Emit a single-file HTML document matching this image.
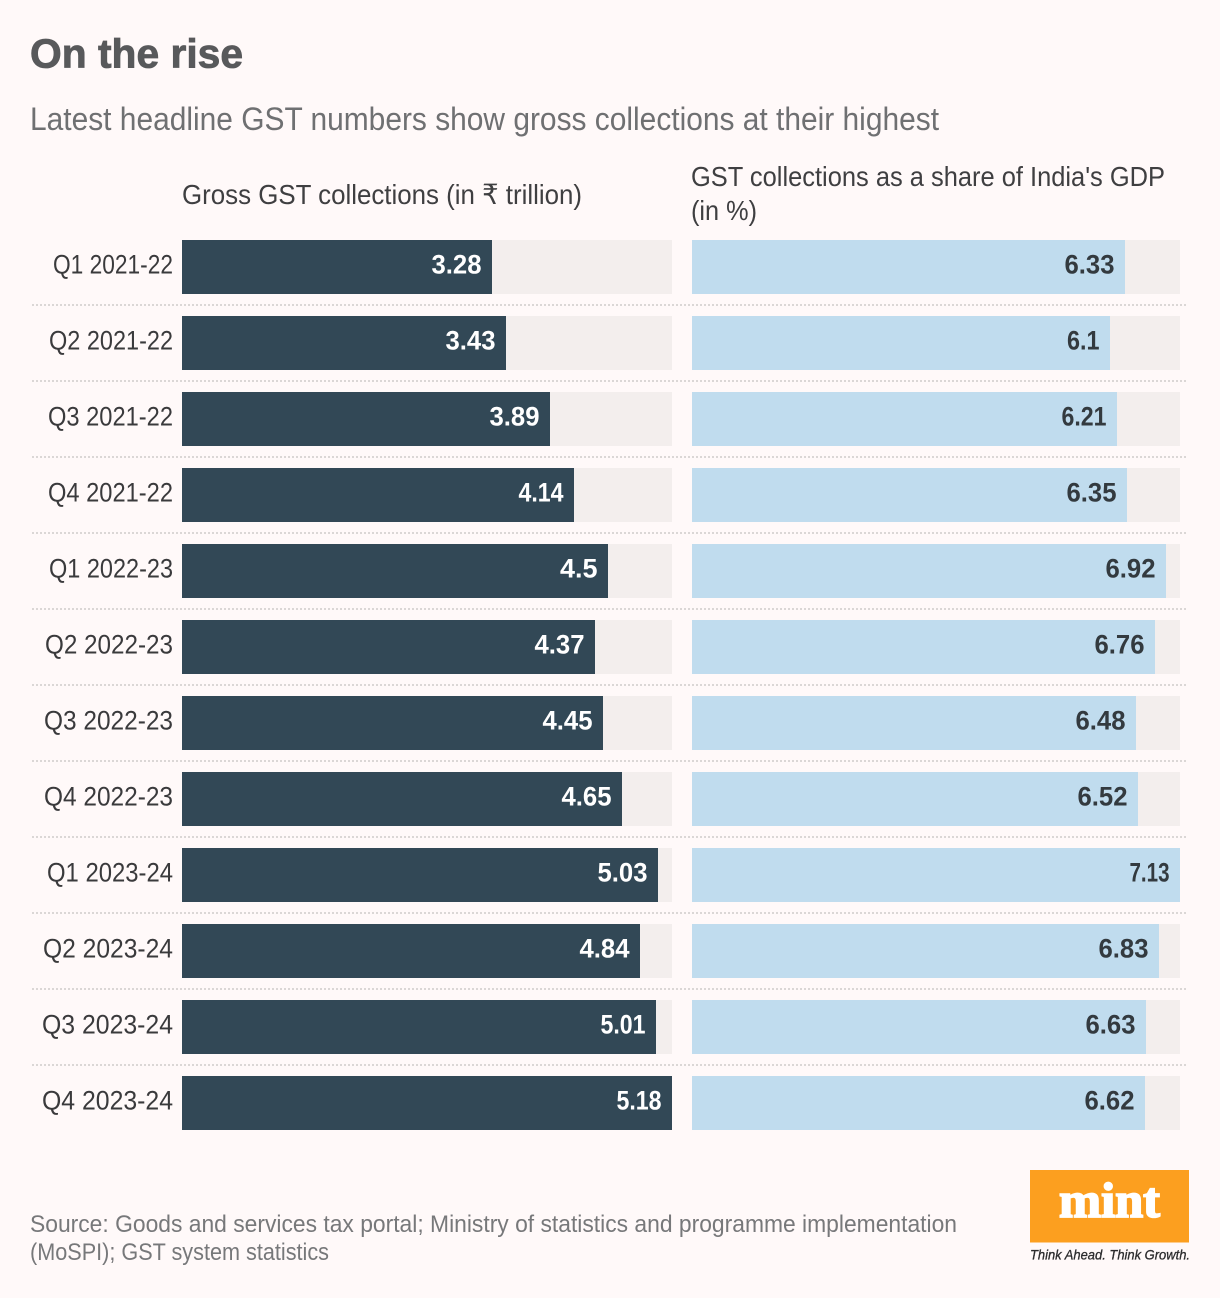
<!DOCTYPE html>
<html lang="en">
<head>
<meta charset="utf-8">
<title>On the rise</title>
<style>
html,body{margin:0;padding:0;background:#fff9f9;}
svg{display:block;font-family:"Liberation Sans",sans-serif;}
</style>
</head>
<body>
<svg id="chart" xmlns="http://www.w3.org/2000/svg" width="1220" height="1298" viewBox="0 0 1220 1298">
  <rect x="0" y="0" width="1220" height="1298" fill="#fff9f9"/>
  <text x="30" y="67.5" font-size="41" font-weight="700" fill="#58595b" stroke="#58595b" stroke-width="0.8" textLength="213" lengthAdjust="spacingAndGlyphs">On the rise</text>
  <text x="30" y="130" font-size="32" fill="#6f7072" textLength="909" lengthAdjust="spacingAndGlyphs">Latest headline GST numbers show gross collections at their highest</text>
  <text x="182" y="204" font-size="28" fill="#3f3f41" textLength="400" lengthAdjust="spacingAndGlyphs">Gross GST collections (in ₹ trillion)</text>
  <text x="691" y="186" font-size="28" fill="#3f3f41" textLength="474" lengthAdjust="spacingAndGlyphs">GST collections as a share of India's GDP</text>
  <text x="691" y="220" font-size="28" fill="#3f3f41" textLength="66" lengthAdjust="spacingAndGlyphs">(in %)</text>
  <g id="rows"></g>
  <text x="30" y="1232" font-size="24" fill="#77787a" textLength="927" lengthAdjust="spacingAndGlyphs">Source: Goods and services tax portal; Ministry of statistics and programme implementation</text>
  <text x="30" y="1260" font-size="24" fill="#77787a" textLength="299" lengthAdjust="spacingAndGlyphs">(MoSPI); GST system statistics</text>
  <rect x="1030" y="1170" width="159" height="72.5" fill="#fc9f1f"/>
  <text x="1059" y="1217" font-family="'Liberation Serif',serif" font-size="50" font-weight="700" fill="#ffffff" stroke="#ffffff" stroke-width="1.8" textLength="101" lengthAdjust="spacingAndGlyphs">mint</text>
  <text x="1030" y="1259.5" font-size="14" font-style="italic" fill="#2b2b2d" stroke="#2b2b2d" stroke-width="0.3" textLength="160" lengthAdjust="spacingAndGlyphs">Think Ahead. Think Growth.</text>
</svg>
<script>
const categories = ["Q1 2021-22","Q2 2021-22","Q3 2021-22","Q4 2021-22","Q1 2022-23","Q2 2022-23","Q3 2022-23","Q4 2022-23","Q1 2023-24","Q2 2023-24","Q3 2023-24","Q4 2023-24"];
const grossCollections = [3.28,3.43,3.89,4.14,4.5,4.37,4.45,4.65,5.03,4.84,5.01,5.18];
const gdpShare = [6.33,6.1,6.21,6.35,6.92,6.76,6.48,6.52,7.13,6.83,6.63,6.62];

const NS = "http://www.w3.org/2000/svg";
const root = document.getElementById("rows");
const leftX = 182, leftW = 490, rightX = 692, rightW = 488;
const top0 = 240, pitch = 76, barH = 54;
const leftMax = Math.max.apply(null, grossCollections);
const rightMax = Math.max.apply(null, gdpShare);
function scaleLeft(v){ return Math.round(v / leftMax * leftW); }
function scaleRight(v){ return Math.round(v / rightMax * rightW); }
function rowY(i){ return top0 + i * pitch; }
function countOnes(s){ return s.split("1").length - 1; }

/* The original typeface has a narrow "1"; mimic that when fitting text widths */
function labelWidth(s){
  let w = 128 - 4 * countOnes(s);
  if (s.charAt(1) === "3" || s.charAt(1) === "4") { w += 1; }
  if (s.indexOf("2023") >= 0) { w += 2; }
  return w;
}
function valueWidth(s){
  let w = s.length * 12.5 - 5 * countOnes(s);
  if (s.charAt(0) === "7") { w -= 5; }
  return w;
}

function makeRect(x, y, w, h, fill){
  const r = document.createElementNS(NS, "rect");
  r.setAttribute("x", x);
  r.setAttribute("y", y);
  r.setAttribute("width", w);
  r.setAttribute("height", h);
  r.setAttribute("fill", fill);
  root.appendChild(r);
  return r;
}
function makeText(str, right, y, size, weight, fill, w){
  const t = document.createElementNS(NS, "text");
  t.textContent = str;
  t.setAttribute("y", y);
  t.setAttribute("font-size", size);
  t.setAttribute("font-weight", weight);
  t.setAttribute("fill", fill);
  t.setAttribute("textLength", w);
  t.setAttribute("lengthAdjust", "spacingAndGlyphs");
  t.setAttribute("x", right - w);
  root.appendChild(t);
  return t;
}

categories.forEach(function(cat, i){
  const y = rowY(i);
  const mid = y + 33.5;

  const label = makeText(cat, 173, mid, 27, 400, "#3a3a3c", labelWidth(cat));
  
  

  const t1 = makeRect(leftX, y, leftW, barH, "#f3eeed");
  
  

  const b1Width = scaleLeft(grossCollections[i]);
  const b1 = makeRect(leftX, y, b1Width, barH, "#324856");
  
  

  const s1 = String(grossCollections[i]);
  const v1 = makeText(s1, leftX + b1Width - 10.5, mid, 27, 700, "#ffffff", valueWidth(s1));
  
  

  const t2 = makeRect(rightX, y, rightW, barH, "#f3eeed");
  
  

  const b2Width = scaleRight(gdpShare[i]);
  const b2 = makeRect(rightX, y, b2Width, barH, "#c0dcee");
  
  

  const s2 = String(gdpShare[i]);
  const v2 = makeText(s2, rightX + b2Width - 10.5, mid, 27, 700, "#333a3f", valueWidth(s2));
  
  

  if (i < categories.length - 1) {
    const sep = document.createElementNS(NS, "line");
    sep.setAttribute("x1", 32);
    sep.setAttribute("x2", 1188);
    sep.setAttribute("y1", y + 65);
    sep.setAttribute("y2", y + 65);
    sep.setAttribute("stroke", "#dbd7d6");
    sep.setAttribute("stroke-width", 2);
    sep.setAttribute("stroke-dasharray", "2 2");
    
    
    root.appendChild(sep);
  }
});
</script>
</body>
</html>
